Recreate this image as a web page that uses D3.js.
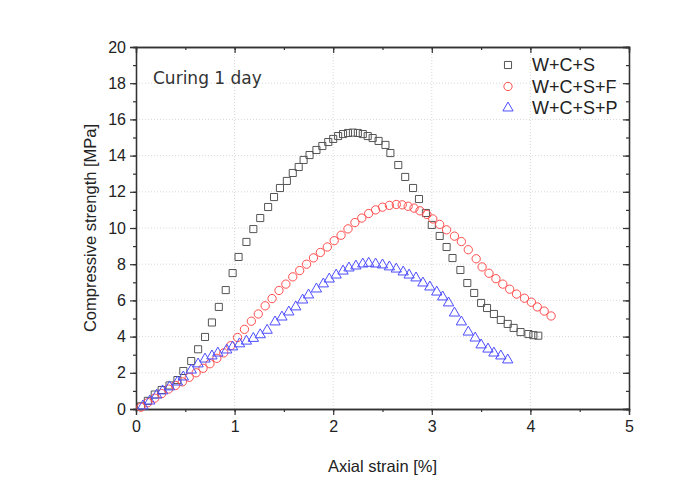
<!DOCTYPE html>
<html><head><meta charset="utf-8">
<script src="https://cdn.jsdelivr.net/npm/d3@7"></script>
<style>body{margin:0;background:#fff}svg{display:block}</style>
</head><body>
<script>
const seriesNames = ["W+C+S", "W+C+S+F", "W+C+S+P"];
const xTicks = [0, 1, 2, 3, 4, 5];
const yTicks = [0, 2, 4, 6, 8, 10, 12, 14, 16, 18, 20];
const wcsStrain = [0.05,0.12,0.19,0.26,0.34,0.42,0.48,0.56,0.63,0.70,0.77,0.84,0.91,0.98,1.04,1.12,1.19,1.26,1.34,1.40,1.46,1.53,1.59,1.65,1.70,1.76,1.83,1.89,1.95,2.00,2.05,2.10,2.15,2.20,2.25,2.30,2.35,2.40,2.46,2.53,2.58,2.66,2.73,2.81,2.87,2.94,3.00,3.08,3.15,3.21,3.29,3.36,3.43,3.50,3.56,3.63,3.70,3.77,3.83,3.90,3.98,4.03,4.08];
const wcsStress = [0.15,0.45,0.8,1.05,1.3,1.6,2.1,2.65,3.3,3.98,4.78,5.64,6.57,7.51,8.4,9.23,9.94,10.55,11.16,11.71,12.21,12.6,13.04,13.37,13.76,14.03,14.31,14.53,14.75,14.92,15.08,15.19,15.25,15.27,15.25,15.19,15.08,14.97,14.81,14.59,14.14,13.48,12.82,12.21,11.6,10.83,10.17,9.56,8.95,8.34,7.68,6.96,6.41,5.86,5.58,5.25,4.92,4.7,4.48,4.25,4.14,4.08,4.05];
const wcsfStrain = [0.05,0.12,0.19,0.26,0.33,0.40,0.47,0.54,0.61,0.68,0.75,0.82,0.89,0.96,1.03,1.10,1.17,1.24,1.31,1.38,1.45,1.52,1.59,1.66,1.73,1.80,1.87,1.94,2.01,2.08,2.15,2.22,2.29,2.36,2.43,2.50,2.57,2.64,2.70,2.76,2.82,2.88,2.95,3.01,3.08,3.15,3.23,3.30,3.37,3.45,3.51,3.58,3.65,3.72,3.79,3.86,3.94,4.01,4.07,4.14,4.21];
const wcsfStress = [0.1,0.35,0.6,0.85,1.1,1.3,1.5,1.75,2.0,2.25,2.5,2.8,3.1,3.5,3.95,4.4,4.85,5.25,5.7,6.1,6.55,6.9,7.3,7.65,8.0,8.35,8.65,8.95,9.3,9.6,9.95,10.3,10.55,10.8,11.0,11.15,11.25,11.3,11.28,11.2,11.1,10.95,10.75,10.5,10.2,9.9,9.55,9.25,8.8,8.3,7.85,7.5,7.2,6.9,6.62,6.35,6.12,5.9,5.64,5.41,5.14];
const wcspStrain = [0.07,0.14,0.21,0.27,0.34,0.42,0.48,0.56,0.63,0.70,0.77,0.83,0.92,0.98,1.05,1.12,1.19,1.26,1.33,1.41,1.48,1.55,1.62,1.69,1.75,1.83,1.90,1.96,2.03,2.10,2.16,2.23,2.30,2.36,2.43,2.50,2.57,2.64,2.71,2.77,2.84,2.91,2.98,3.05,3.11,3.17,3.23,3.30,3.37,3.44,3.50,3.57,3.63,3.70,3.77];
const wcspStress = [0.17,0.44,0.77,1.0,1.22,1.49,1.77,2.15,2.49,2.76,2.93,3.09,3.26,3.43,3.6,3.75,3.9,4.1,4.35,4.81,5.08,5.36,5.64,6.02,6.3,6.63,6.91,7.18,7.4,7.62,7.79,7.9,8.01,8.05,8.01,7.96,7.85,7.73,7.57,7.4,7.24,6.96,6.74,6.46,6.19,5.86,5.3,4.81,4.25,3.92,3.54,3.31,3.09,2.93,2.71];

const W = 695, H = 484;
const m = {l: 136, r: 66, t: 47, b: 75};
const svg = d3.select("body").append("svg").attr("width", W).attr("height", H);
const x = d3.scaleLinear().domain([0, 5]).range([m.l, W - m.r]);
const y = d3.scaleLinear().domain([0, 20]).range([H - m.b, m.t]);
const font = "'Liberation Sans', Arial, sans-serif";

// grid
const g = svg.append("g");
g.selectAll(".gx").data(xTicks.slice(1, -1)).join("line")
  .attr("x1", d => x(d)).attr("x2", d => x(d)).attr("y1", y(0)).attr("y2", y(20))
  .attr("stroke", "#d8d8d8").attr("stroke-dasharray", "1,2");
g.selectAll(".gy").data(yTicks.slice(1, -1)).join("line")
  .attr("y1", d => y(d)).attr("y2", d => y(d)).attr("x1", x(0)).attr("x2", x(5))
  .attr("stroke", "#d8d8d8").attr("stroke-dasharray", "1,2");

// axes
const xMinor = d3.range(0, 5.01, 0.5);
const yMinor = d3.range(0, 20.01, 1);
function styleAxis(sel) {
  sel.select(".domain").attr("stroke", "#333").attr("stroke-width", 1.3);
  sel.selectAll(".tick line").attr("stroke", "#333").attr("stroke-width", 1.2);
  sel.selectAll("text").attr("font-family", font).attr("font-size", 16).attr("fill", "#222");
}
svg.append("g").attr("transform", `translate(0,${y(0)})`)
  .call(d3.axisBottom(x).tickValues(xMinor).tickSize(3).tickFormat("")).call(styleAxis);
svg.append("g").attr("transform", `translate(0,${y(0)})`)
  .call(d3.axisBottom(x).tickValues(xTicks).tickSize(6).tickPadding(6).tickFormat(d3.format("d"))).call(styleAxis);
svg.append("g").attr("transform", `translate(0,${y(20)})`)
  .call(d3.axisBottom(x).tickValues(xMinor).tickSize(3).tickFormat("")).call(styleAxis);
svg.append("g").attr("transform", `translate(0,${y(20)})`)
  .call(d3.axisBottom(x).tickValues(xTicks).tickSize(6).tickFormat("")).call(styleAxis);
svg.append("g").attr("transform", `translate(${x(0)},0)`)
  .call(d3.axisLeft(y).tickValues(yMinor).tickSize(3).tickFormat("")).call(styleAxis);
svg.append("g").attr("transform", `translate(${x(0)},0)`)
  .call(d3.axisLeft(y).tickValues(yTicks).tickSize(6).tickPadding(4).tickFormat(d3.format("d"))).call(styleAxis);
svg.append("g").attr("transform", `translate(${x(5)},0)`)
  .call(d3.axisLeft(y).tickValues(yMinor).tickSize(3).tickFormat("")).call(styleAxis);
svg.append("g").attr("transform", `translate(${x(5)},0)`)
  .call(d3.axisLeft(y).tickValues(yTicks).tickSize(6).tickFormat("")).call(styleAxis);

// titles
svg.append("text").attr("x", (x(0) + x(5)) / 2).attr("y", 472).attr("text-anchor", "middle")
  .attr("font-family", font).attr("font-size", 16.5).attr("fill", "#222").text("Axial strain [%]");
svg.append("text").attr("transform", `translate(96,${(y(0) + y(20)) / 2}) rotate(-90)`).attr("text-anchor", "middle")
  .attr("font-family", font).attr("font-size", 16.5).attr("fill", "#222").text("Compressive strength [MPa]");
svg.append("text").attr("x", 153).attr("y", 84).attr("font-family", "'DejaVu Sans', sans-serif")
  .attr("font-size", 17).attr("fill", "#333").text("Curing 1 day");

// data
const colors = ["#555555", "#ff4d4d", "#4d4dff"];
const symbols = [d3.symbolSquare, d3.symbolCircle, d3.symbolTriangle];
const sizes = [50, 54, 46];
const data = [
  d3.zip(wcsStrain, wcsStress),
  d3.zip(wcsfStrain, wcsfStress),
  d3.zip(wcspStrain, wcspStress)
];
data.forEach((pts, i) => {
  svg.append("g").selectAll("path").data(pts).join("path")
    .attr("d", d3.symbol().type(symbols[i]).size(sizes[i]))
    .attr("transform", d => `translate(${x(d[0])},${y(d[1])})`)
    .attr("fill", "none").attr("stroke", colors[i]).attr("stroke-width", 1);
});

// legend
const leg = svg.append("g");
seriesNames.forEach((n, i) => {
  const yy = 65 + i * 21.5;
  leg.append("path").attr("d", d3.symbol().type(symbols[i]).size(sizes[i])())
    .attr("transform", `translate(508,${yy})`).attr("fill", "none").attr("stroke", colors[i]).attr("stroke-width", 1);
  leg.append("text").attr("x", 532).attr("y", yy + 6).attr("font-family", font).attr("font-size", 18)
    .attr("fill", "#222").text(n);
});
</script>
</body></html>
